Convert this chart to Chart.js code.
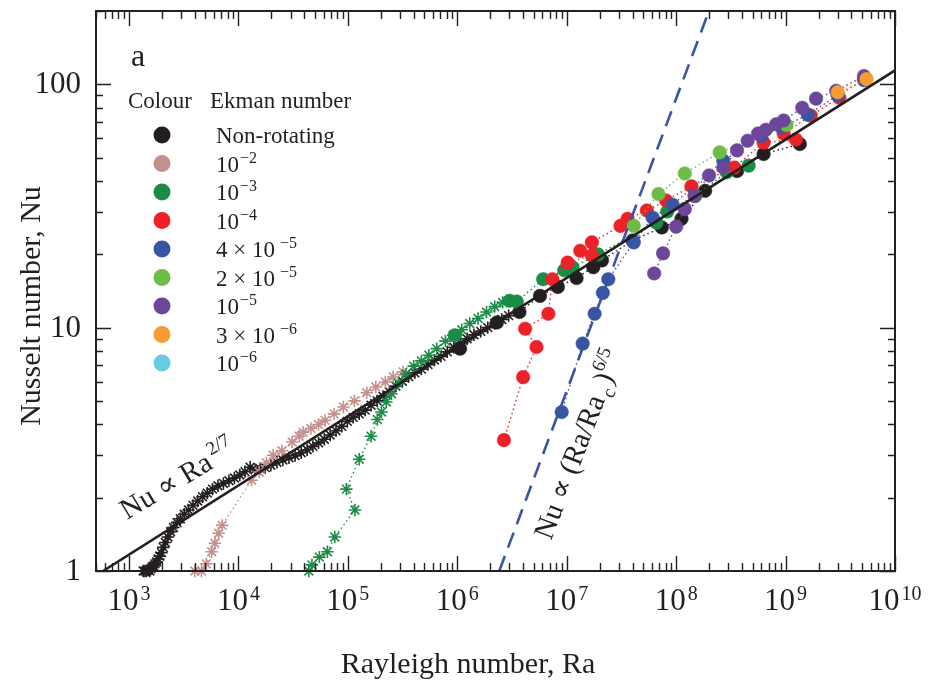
<!DOCTYPE html>
<html>
<head>
<meta charset="utf-8">
<script src="https://cdn.jsdelivr.net/npm/chart.js@4/dist/chart.umd.min.js"></script>
<style>
html, body { margin: 0; padding: 0; background: #fff; }
#wrap { width: 934px; height: 694px; }
</style>
</head>
<body>
<div id="wrap"><canvas id="nuChart" width="934" height="694"></canvas></div>
<script>
// Non-rotating, DNS (asterisks)
const nonRotDnsRa = [1350, 1400, 1450, 1500, 1550, 1590, 1630, 1680, 1730, 1790,
  1850, 1910, 1980, 2060, 2150, 2270, 2400, 2550, 2750, 2950,
  3200, 3500, 3850, 4250, 4700, 5200, 5800, 6500, 7300, 8200,
  9200, 10300, 11500, 12800, 14200, 15800, 17600, 19800, 22500, 25500,
  29000, 33000, 37500, 42500, 48000, 54000, 61000, 69000, 78000, 88000,
  99000, 112000, 127000, 144000, 163000, 185000, 210000, 240000, 275000, 315000,
  360000, 410000, 470000, 540000, 620000, 710000, 810000, 930000, 1070000, 1230000,
  1420000, 1640000, 1900000, 2200000, 2550000, 2950000];
const nonRotDnsNu = [1.0, 1.0, 1.0, 1.01, 1.0, 1.02, 1.04, 1.05, 1.07, 1.09,
  1.12, 1.15, 1.19, 1.25, 1.31, 1.38, 1.45, 1.51, 1.58, 1.64,
  1.71, 1.78, 1.86, 1.94, 2.02, 2.09, 2.17, 2.24, 2.29, 2.35,
  2.41, 2.48, 2.56, 2.67, 2.61, 2.63, 2.66, 2.72, 2.8, 2.86,
  2.92, 2.98, 3.06, 3.15, 3.25, 3.36, 3.48, 3.62, 3.77, 3.93,
  4.12, 4.28, 4.42, 4.58, 4.8, 5.0, 5.22, 5.45, 5.75, 6.02,
  6.3, 6.52, 6.75, 7.05, 7.35, 7.62, 7.95, 8.3, 8.65, 9.0,
  9.35, 9.65, 10.0, 10.4, 10.8, 11.2];

// Non-rotating, experiments (circles)
const nonRotRa = [1.06e6, 2.3e6, 3.7e6, 5.7e6, 8.3e6, 1.23e7, 1.75e7, 2.1e7, 4.0e7, 7.4e7, 1.12e8, 1.84e8, 3.6e8, 6.3e8, 1.35e9];
const nonRotNu = [8.2, 10.5, 11.6, 13.5, 14.7, 16.0, 17.7, 18.9, 22.8, 25.8, 28.0, 36.5, 44.0, 51.7, 56.8];

// Ek = 1e-2 (asterisks)
const ek2Ra = [4000, 4600, 5100, 5700, 6100, 6600, 7100, 13200, 15500, 18000, 20800, 25000, 31000,
  36000, 39000, 46000, 54000, 62000, 75000, 91000, 115000, 149000, 180000, 220000, 260000, 320000];
const ek2Nu = [1.0, 1.0, 1.07, 1.2, 1.3, 1.43, 1.54, 2.36, 2.55, 2.78, 2.99, 3.12, 3.39,
  3.58, 3.72, 3.85, 4.0, 4.16, 4.42, 4.72, 5.0, 5.4, 5.7, 5.98, 6.27, 6.58];

// Ek = 1e-3 (asterisks, then circles)
const ek3DnsRa = [44000, 47000, 55000, 65000, 76000, 116000, 97000, 127000, 163000, 186000,
  203000, 225000, 250000, 290000, 340000, 400000, 470000, 550000, 650000, 780000,
  920000, 1100000, 1300000, 1550000, 1850000, 2200000, 2600000];
const ek3DnsNu = [1.0, 1.06, 1.14, 1.2, 1.38, 1.78, 2.17, 2.88, 3.58, 4.19,
  4.5, 4.95, 5.35, 5.9, 6.45, 6.95, 7.3, 7.7, 8.2, 8.8,
  9.3, 9.8, 10.4, 10.9, 11.6, 12.2, 12.7];
const ek3Ra = [9.5e5, 3.0e6, 3.5e6, 6.1e6, 9.5e6, 1.13e7, 1.93e7, 6.6e7, 8.3e7, 1.5e8, 2.9e8, 4.6e8];
const ek3Nu = [9.3, 12.9, 12.8, 15.8, 17.2, 17.7, 20.0, 27.0, 30.0, 34.8, 43.5, 46.3];

// Ek = 1e-4
const ek4Ra = [2.67e6, 4.0e6, 5.3e6, 4.17e6, 6.8e6, 7.4e6, 1.02e7, 1.7e7, 1.33e7, 1.7e7, 3.1e7,
  3.6e7, 5.4e7, 8.1e7, 1.38e8, 3.4e8, 6.3e8, 1.24e9, 9.6e8, 1.7e9, 3.1e9];
const ek4Nu = [3.45, 6.26, 8.33, 9.9, 11.4, 15.8, 18.5, 19.8, 20.7, 22.4, 26.2,
  28.0, 30.3, 33.3, 38.1, 45.5, 57.6, 59.3, 62.7, 74.3, 88.0];

// Ek = 4e-5
const ek4e5Ra = [9.0e6, 1.4e7, 1.8e7, 2.14e7, 2.4e7, 4.1e7, 6.1e7, 9.3e7, 2.7e8, 6.0e8, 9.2e8, 1.6e9, 3.0e9, 5.2e9];
const ek4e5Nu = [4.5, 8.6, 11.4, 13.9, 15.8, 22.4, 28.3, 32.0, 48.5, 61.3, 66.5, 75.0, 90.0, 104];

// Ek = 2e-5
const ek2e5Ra = [4.1e7, 6.9e7, 1.2e8, 2.5e8, 1.02e9];
const ek2e5Nu = [26.2, 35.4, 43.0, 52.5, 68.0];

// Ek = 1e-5
const ek1e5Ra = [6.3e7, 7.6e7, 1.0e8, 1.2e8, 1.47e8, 2.0e8, 2.7e8, 3.6e8, 4.5e8, 5.6e8, 6.6e8, 8.2e8, 9.6e8, 1.42e9, 1.9e9, 2.9e9, 5.2e9];
const ek1e5Nu = [16.7, 20.2, 26.0, 30.7, 34.8, 42.2, 45.5, 53.5, 58.6, 62.7, 65.0, 68.5, 71.0, 80.0, 87.3, 94.0, 108];

// Ek = 3e-6 and 1e-6
const ek3e6Ra = [3.0e9, 5.5e9];
const ek3e6Nu = [92.7, 105];
const ek1e6Ra = [];
const ek1e6Nu = [];

// scaling lines
const fitRa = [580, 1e10];
const fitNu = [1, 114];
const onsetRa = [2.42e6, 1.97e8];
const onsetNu = [1, 197];

// ticks and legend
const xTickExps = [3, 4, 5, 6, 7, 8, 9, 10];
const yTickLabels = [1, 10, 100];
const legendLabels = [['Non-rotating', ''], ['10', '\u22122'], ['10', '\u22123'], ['10', '\u22124'],
  ['4 \u00d7 10', '\u22125'], ['2 \u00d7 10', '\u22125'], ['10', '\u22125'], ['3 \u00d7 10', '\u22126'], ['10', '\u22126']];
const legendColours = ['#231f20', '#c3908e', '#1a8c45', '#ed2128', '#3a54a4', '#6cbd45', '#6b4699', '#f89b33', '#66cde1'];

const ink = '#231f20';
const serif = '"Liberation Serif", "DejaVu Serif", serif';

function pts(xs, ys) {
  return xs.map((v, i) => ({ x: v, y: ys[i] }));
}

function series(xs, ys, colour, style, order) {
  const star = style === 'star';
  return {
    data: pts(xs, ys),
    showLine: true,
    borderColor: colour,
    borderWidth: 1.4,
    borderDash: [1.5, 3],
    backgroundColor: colour,
    pointStyle: style,
    pointRadius: star ? 6.2 : 6.8,
    pointBackgroundColor: colour,
    pointBorderColor: colour,
    pointBorderWidth: star ? 1.6 : 0.5,
    order: order,
    clip: false
  };
}

function powText(ctx, base, sup, x, y, size, supSize, rise, align, gap) {
  ctx.font = size + 'px ' + serif;
  const wb = ctx.measureText(base).width;
  ctx.font = supSize + 'px ' + serif;
  const ws = ctx.measureText(sup).width;
  let x0 = x;
  if (align === 'center') x0 = x - (wb + gap + ws) / 2;
  ctx.textAlign = 'left';
  ctx.textBaseline = 'alphabetic';
  ctx.font = size + 'px ' + serif;
  ctx.fillText(base, x0, y);
  if (sup) {
    ctx.font = supSize + 'px ' + serif;
    ctx.fillText(sup, x0 + wb + gap, y - rise);
  }
}

// frame, ticks, labels, legend and notes
const decorations = {
  id: 'decorations',
  afterDraw(chart) {
    const { ctx, chartArea: a, scales: { x, y } } = chart;
    ctx.save();
    ctx.strokeStyle = ink;
    ctx.fillStyle = ink;

    // ticks pointing inwards on all four sides
    ctx.lineWidth = 1.4;
    ctx.beginPath();
    for (let e = 2; e <= 10; e++) {
      for (let k = 1; k <= 9; k++) {
        const v = k * Math.pow(10, e);
        if (v < x.min || v > x.max) continue;
        const px = Math.round(x.getPixelForValue(v)) + 0.5;
        const len = k === 1 ? 15 : 8;
        ctx.moveTo(px, a.bottom); ctx.lineTo(px, a.bottom - len);
        ctx.moveTo(px, a.top); ctx.lineTo(px, a.top + len);
      }
    }
    for (let e = 0; e <= 2; e++) {
      for (let k = 1; k <= 9; k++) {
        const v = k * Math.pow(10, e);
        if (v < y.min || v > y.max) continue;
        const py = Math.round(y.getPixelForValue(v)) + 0.5;
        const len = k === 1 ? 15 : 7;
        ctx.moveTo(a.left, py); ctx.lineTo(a.left + len, py);
        ctx.moveTo(a.right, py); ctx.lineTo(a.right - len, py);
      }
    }
    ctx.stroke();

    ctx.lineWidth = 2;
    ctx.strokeRect(a.left, a.top, a.right - a.left, a.bottom - a.top);

    // tick labels
    xTickExps.forEach(p => {
      const px = x.getPixelForValue(Math.pow(10, p));
      powText(ctx, '10', String(p), px, a.bottom + 39, 31, 20, 10, 'center', 2);
    });
    ctx.font = '31px ' + serif;
    ctx.textAlign = 'right';
    ctx.textBaseline = 'middle';
    yTickLabels.forEach(v => {
      ctx.fillText(String(v), a.left - 15, y.getPixelForValue(v) + 1);
    });

    // axis titles
    ctx.font = '30px ' + serif;
    ctx.textAlign = 'center';
    ctx.textBaseline = 'alphabetic';
    ctx.fillText('Rayleigh number, Ra', 468, 673);
    ctx.save();
    ctx.translate(40, 306);
    ctx.rotate(-Math.PI / 2);
    ctx.fillText('Nusselt number, Nu', 0, 0);
    ctx.restore();

    // panel letter
    ctx.font = '32px ' + serif;
    ctx.textAlign = 'left';
    ctx.fillText('a', 131, 66);

    // legend
    ctx.font = '23px ' + serif;
    ctx.fillText('Colour', 128, 108);
    ctx.fillText('Ekman number', 210, 108);
    legendLabels.forEach((lab, i) => {
      const yy = 135 + i * 28.5;
      ctx.fillStyle = legendColours[i];
      ctx.beginPath();
      ctx.arc(162, yy, 8.5, 0, 2 * Math.PI);
      ctx.fill();
      ctx.fillStyle = ink;
      powText(ctx, lab[0], lab[1], 216, yy + 8, 23, 16, 9, 'left', lab[0].length > 2 ? 5 : 1);
    });

    // scaling notes
    ctx.save();
    ctx.translate(127, 520);
    ctx.rotate(-31 * Math.PI / 180);
    powText(ctx, 'Nu \u221d Ra', '2/7', 0, 0, 29, 19, 12, 'left', 3);
    ctx.restore();

    ctx.save();
    ctx.translate(551, 541);
    ctx.rotate(-69 * Math.PI / 180);
    ctx.textAlign = 'left';
    ctx.font = '29px ' + serif;
    const t1 = 'Nu \u221d (Ra/Ra';
    ctx.fillText(t1, 0, 0);
    let w = ctx.measureText(t1).width + 3;
    ctx.font = '19px ' + serif;
    ctx.fillText('c', w, 7);
    w += ctx.measureText('c').width + 3;
    ctx.font = '29px ' + serif;
    ctx.fillText(')', w, 0);
    w += ctx.measureText(')').width;
    ctx.font = '19px ' + serif;
    ctx.fillText('6/5', w, -12);
    ctx.restore();

    ctx.restore();
  }
};

const ctx = document.getElementById('nuChart').getContext('2d');
const nuChart = new Chart(ctx, {
  type: 'scatter',
  data: {
    datasets: [
      series(nonRotDnsRa, nonRotDnsNu, legendColours[0], 'star', 12),
      series(nonRotRa, nonRotNu, legendColours[0], 'circle', 11),
      series(ek2Ra, ek2Nu, legendColours[1], 'star', 10),
      series(ek3DnsRa, ek3DnsNu, legendColours[2], 'star', 9),
      series(ek3Ra, ek3Nu, legendColours[2], 'circle', 8),
      series(ek4Ra, ek4Nu, legendColours[3], 'circle', 7),
      series(ek4e5Ra, ek4e5Nu, legendColours[4], 'circle', 6),
      series(ek2e5Ra, ek2e5Nu, legendColours[5], 'circle', 5),
      series(ek1e5Ra, ek1e5Nu, legendColours[6], 'circle', 4),
      series(ek3e6Ra, ek3e6Nu, legendColours[7], 'circle', 3),
      series(ek1e6Ra, ek1e6Nu, legendColours[8], 'circle', 2),
      {
        data: pts(fitRa, fitNu), showLine: true, borderColor: ink, borderWidth: 2.6,
        pointRadius: 0, order: 0
      },
      {
        data: pts(onsetRa, onsetNu), showLine: true, borderColor: '#3a54a4', borderWidth: 2.6,
        borderDash: [16, 9], pointRadius: 0, order: 1
      }
    ]
  },
  options: {
    responsive: false,
    animation: false,
    devicePixelRatio: 1,
    layout: { padding: { left: 96, right: 39, top: 11, bottom: 123 } },
    plugins: {
      legend: { display: false },
      tooltip: { enabled: false }
    },
    scales: {
      x: { type: 'logarithmic', min: 500, max: 1e10, display: false },
      y: { type: 'logarithmic', min: 1, max: 200, display: false }
    }
  },
  plugins: [decorations]
});
</script>
</body>
</html>
